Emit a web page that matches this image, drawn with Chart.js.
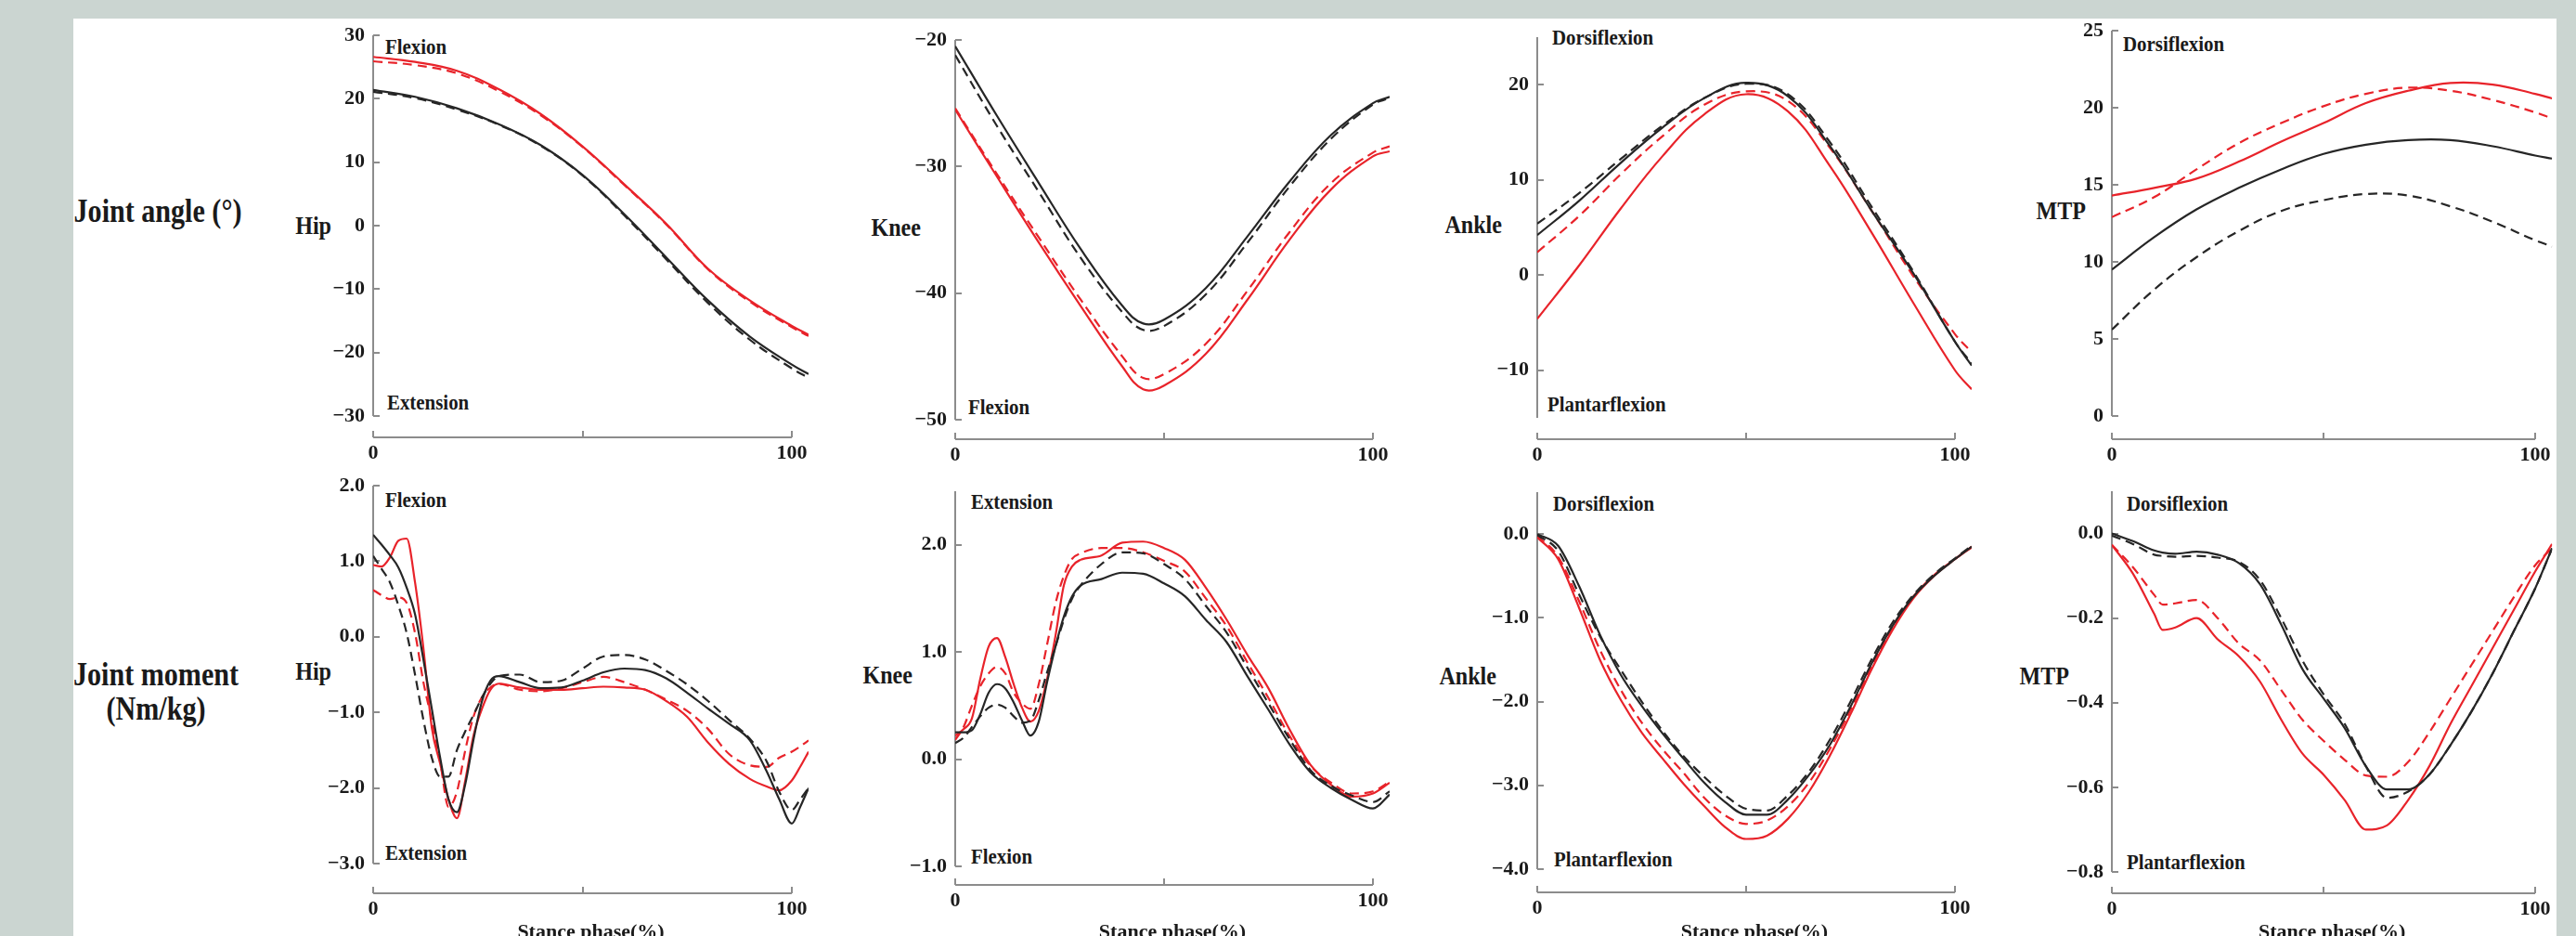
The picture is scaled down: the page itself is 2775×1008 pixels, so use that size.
<!DOCTYPE html>
<html lang="en">

<head>
    <meta charset="UTF-8">
    <title>Joint angle and moment</title>
    <script src="https://cdn.jsdelivr.net/npm/chart.js"></script>
    <style>
        html, body { margin: 0; padding: 0; overflow: hidden; background: #cbd5d1; }
        #stage { position: relative; width: 2775px; height: 1008px; overflow: hidden; }
        #sheet { position: absolute; left: 79px; top: 20px; width: 2675px; height: 1000px; background: #fff; }
        canvas { position: absolute; left: 0; top: 0; }
        .lbl { position: absolute; font-family: 'Liberation Serif', serif; font-weight: bold; color: #1a1a1a;
               line-height: 1; white-space: nowrap; }
        .big { font-size: 35px; text-align: center; line-height: 37px; transform: translate(-50%, -50%) scaleX(0.86); }
        .row { font-size: 28px; transform-origin: right center; transform: translate(-100%, -50%) scaleX(0.86); }
        .note { font-size: 24px; transform-origin: left center; transform: translateY(-50%) scaleX(0.87); }
    </style>
</head>

<body>
    <div id="stage">
        <div id="sheet"></div>

        <div class="lbl big" style="left:170px;top:227px">Joint angle (°)</div>
        <div class="lbl big" style="left:168px;top:745px">Joint moment<br>(Nm/kg)</div>

        <div class="lbl row" style="left:357px;top:243px">Hip</div>
        <div class="lbl row" style="left:992px;top:245px">Knee</div>
        <div class="lbl row" style="left:1618px;top:242px">Ankle</div>
        <div class="lbl row" style="left:2247px;top:227px">MTP</div>
        <div class="lbl row" style="left:357px;top:723px">Hip</div>
        <div class="lbl row" style="left:983px;top:727px">Knee</div>
        <div class="lbl row" style="left:1612px;top:728px">Ankle</div>
        <div class="lbl row" style="left:2229px;top:728px">MTP</div>

        <div class="lbl note" style="left:415px;top:50px">Flexion</div>
        <div class="lbl note" style="left:417px;top:433px">Extension</div>
        <div class="lbl note" style="left:1043px;top:438px">Flexion</div>
        <div class="lbl note" style="left:1672px;top:40px">Dorsiflexion</div>
        <div class="lbl note" style="left:1667px;top:435px">Plantarflexion</div>
        <div class="lbl note" style="left:2287px;top:47px">Dorsiflexion</div>
        <div class="lbl note" style="left:415px;top:538px">Flexion</div>
        <div class="lbl note" style="left:415px;top:918px">Extension</div>
        <div class="lbl note" style="left:1046px;top:540px">Extension</div>
        <div class="lbl note" style="left:1046px;top:922px">Flexion</div>
        <div class="lbl note" style="left:1673px;top:542px">Dorsiflexion</div>
        <div class="lbl note" style="left:1674px;top:925px">Plantarflexion</div>
        <div class="lbl note" style="left:2291px;top:542px">Dorsiflexion</div>
        <div class="lbl note" style="left:2291px;top:928px">Plantarflexion</div>
    </div>

    <script>
        // stance phase (%) sample points
        const angleX = [0, 10, 20, 30, 40, 50, 60, 70, 80, 90, 100, 104];
        const kneeAngleX = [0, 10, 20, 30, 40, 45, 50, 60, 70, 80, 90, 100, 104];
        const hipMomentX = [0, 2, 4, 6, 8, 10, 12, 14, 16, 18, 20, 22, 24, 26, 28, 30, 35, 40, 45, 50, 55, 60, 65, 70, 75, 80, 85, 90, 94, 97, 100, 102, 104];
        const kneeMomentX = [0, 2, 4, 6, 8, 10, 12, 14, 16, 18, 20, 22, 24, 26, 28, 30, 35, 40, 45, 50, 55, 60, 65, 70, 75, 80, 85, 90, 95, 100, 104];
        const ankleMomentX = [0, 5, 10, 15, 20, 25, 30, 35, 40, 45, 50, 55, 60, 65, 70, 75, 80, 85, 90, 95, 100, 104];
        const mtpMomentX = [0, 5, 10, 12, 15, 20, 25, 30, 35, 40, 45, 50, 55, 60, 65, 70, 75, 80, 85, 90, 95, 100, 104];
        const xTicks = [0, 50, 100];

        // joint angles (deg)
        const hipAngleBlack = [21.4, 20.3, 18.5, 16.0, 12.7, 8.0, 1.8, -5.0, -11.8, -17.5, -21.9, -23.4];
        const hipAngleBlackDash = [21.1, 20.1, 18.3, 15.9, 12.6, 7.9, 1.6, -5.3, -12.2, -18.0, -22.5, -24.0];
        const hipAngleRed = [26.6, 25.8, 24.4, 21.5, 17.6, 12.5, 6.5, 0.3, -6.8, -11.8, -15.8, -17.2];
        const hipAngleRedDash = [25.9, 25.3, 24.0, 21.2, 17.4, 12.4, 6.4, 0.2, -6.9, -12.0, -16.0, -17.4];

        const kneeAngleBlack = [-20.5, -26.0, -31.3, -36.5, -41.0, -42.4, -42.1, -39.6, -35.5, -31.2, -27.5, -25.0, -24.5];
        const kneeAngleBlackDash = [-21.2, -26.8, -32.0, -37.2, -41.5, -42.9, -42.6, -40.1, -36.0, -31.6, -27.8, -25.1, -24.6];
        const kneeAngleRed = [-25.5, -30.8, -36.0, -41.0, -45.8, -47.6, -47.3, -44.8, -40.5, -35.8, -31.8, -29.2, -28.8];
        const kneeAngleRedDash = [-25.4, -30.6, -35.6, -40.5, -45.0, -46.7, -46.4, -44.0, -39.8, -35.2, -31.3, -28.9, -28.4];

        const ankleAngleBlack = [4.2, 7.8, 11.8, 15.5, 18.6, 20.2, 18.8, 13.6, 6.8, 0.2, -7.0, -9.5];
        const ankleAngleBlackDash = [5.4, 8.6, 12.2, 15.7, 18.6, 20.1, 19.0, 14.0, 7.2, 0.4, -7.0, -9.3];
        const ankleAngleRed = [-4.6, 1.0, 7.0, 12.5, 16.9, 19.0, 17.2, 11.5, 4.5, -2.9, -10.0, -12.0];
        const ankleAngleRedDash = [2.4, 6.2, 10.6, 14.6, 17.9, 19.3, 18.3, 13.4, 6.8, -0.1, -6.2, -8.1];

        const mtpAngleBlack = [9.5, 11.6, 13.4, 14.8, 16.0, 17.0, 17.6, 17.9, 17.9, 17.5, 16.9, 16.7];
        const mtpAngleBlackDash = [5.6, 8.2, 10.3, 12.0, 13.3, 14.0, 14.4, 14.3, 13.6, 12.6, 11.4, 11.0];
        const mtpAngleRed = [14.3, 14.8, 15.4, 16.5, 17.8, 19.0, 20.3, 21.1, 21.6, 21.5, 20.9, 20.6];
        const mtpAngleRedDash = [12.9, 14.2, 16.0, 17.7, 19.0, 20.1, 20.9, 21.3, 21.1, 20.5, 19.7, 19.3];

        // joint moments (Nm/kg)
        const hipMomentBlack = [1.35, 1.22, 1.08, 0.92, 0.65, 0.3, -0.3, -0.95, -1.6, -2.15, -2.32, -1.95, -1.35, -0.85, -0.58, -0.52, -0.6, -0.68, -0.67, -0.58, -0.47, -0.42, -0.44, -0.55, -0.74, -0.95, -1.15, -1.37, -1.78, -2.15, -2.47, -2.25, -2.0];
        const hipMomentBlackDash = [1.07, 0.9, 0.72, 0.42, 0.05, -0.5, -1.1, -1.6, -1.85, -1.85, -1.5, -1.25, -1.03, -0.8, -0.62, -0.52, -0.5, -0.6, -0.58, -0.42, -0.26, -0.24, -0.3, -0.45, -0.63, -0.85, -1.1, -1.35, -1.65, -2.05, -2.29, -2.15, -2.0];
        const hipMomentRed = [0.95, 0.93, 1.05, 1.27, 1.3, 0.72, -0.15, -1.2, -1.68, -2.15, -2.4, -1.9, -1.3, -0.95, -0.7, -0.62, -0.67, -0.7, -0.7, -0.68, -0.66, -0.67, -0.7, -0.85, -1.06, -1.4, -1.68, -1.88, -1.98, -2.03, -1.9, -1.72, -1.52];
        const hipMomentRedDash = [0.62, 0.55, 0.5, 0.52, 0.45, 0.05, -0.6, -1.1, -1.65, -2.25, -2.05, -1.5, -1.05, -0.8, -0.67, -0.62, -0.7, -0.72, -0.68, -0.6, -0.53, -0.6, -0.7, -0.83, -0.98, -1.22, -1.55, -1.7, -1.72, -1.6, -1.52, -1.45, -1.37];

        const kneeMomentBlack = [0.25, 0.25, 0.27, 0.42, 0.62, 0.7, 0.66, 0.53, 0.36, 0.22, 0.35, 0.72, 1.05, 1.33, 1.52, 1.62, 1.68, 1.74, 1.73, 1.64, 1.52, 1.3, 1.09, 0.77, 0.46, 0.14, -0.12, -0.27, -0.38, -0.46, -0.33];
        const kneeMomentBlackDash = [0.15, 0.2, 0.3, 0.4, 0.48, 0.51, 0.48, 0.4, 0.34, 0.36, 0.55, 0.81, 1.05, 1.3, 1.5, 1.62, 1.82, 1.93, 1.92, 1.82, 1.68, 1.43, 1.18, 0.85, 0.52, 0.19, -0.1, -0.25, -0.34, -0.4, -0.3];
        const kneeMomentRed = [0.22, 0.28, 0.38, 0.75, 1.05, 1.13, 0.95, 0.7, 0.48, 0.35, 0.45, 0.75, 1.15, 1.62, 1.8, 1.86, 1.9, 2.02, 2.03, 1.97, 1.86, 1.6, 1.3, 0.97, 0.66, 0.28, -0.05, -0.24, -0.35, -0.32, -0.22];
        const kneeMomentRedDash = [0.18, 0.3, 0.5, 0.68, 0.8, 0.86, 0.8, 0.62, 0.52, 0.47, 0.7, 1.07, 1.45, 1.71, 1.87, 1.92, 1.97, 1.97, 1.93, 1.85, 1.75, 1.5, 1.24, 0.9, 0.57, 0.22, -0.06, -0.22, -0.32, -0.3, -0.21];

        const ankleMomentBlack = [0, -0.14, -0.62, -1.2, -1.68, -2.05, -2.38, -2.68, -2.97, -3.2, -3.35, -3.35, -3.17, -2.88, -2.52, -2.06, -1.55, -1.1, -0.75, -0.5, -0.3, -0.15];
        const ankleMomentBlackDash = [-0.01, -0.2, -0.72, -1.22, -1.62, -2.0, -2.35, -2.65, -2.9, -3.12, -3.28, -3.3, -3.12, -2.84, -2.46, -2.0, -1.5, -1.06, -0.73, -0.48, -0.29, -0.14];
        const ankleMomentRed = [-0.04, -0.3, -0.88, -1.5, -1.98, -2.37, -2.68, -2.98, -3.25, -3.5, -3.64, -3.6, -3.4, -3.08, -2.65, -2.15, -1.62, -1.15, -0.77, -0.5, -0.3, -0.16];
        const ankleMomentRedDash = [-0.02, -0.27, -0.8, -1.38, -1.86, -2.25, -2.57, -2.85, -3.15, -3.36, -3.46, -3.42, -3.25, -2.97, -2.57, -2.1, -1.58, -1.12, -0.75, -0.49, -0.3, -0.15];

        const mtpMomentBlack = [0, -0.018, -0.04, -0.045, -0.048, -0.043, -0.05, -0.07, -0.12, -0.215, -0.32, -0.39, -0.46, -0.55, -0.605, -0.605, -0.57, -0.5, -0.42, -0.33, -0.23, -0.13, -0.035];
        const mtpMomentBlackDash = [-0.005, -0.025, -0.05, -0.053, -0.055, -0.053, -0.057, -0.067, -0.11, -0.2, -0.3, -0.38, -0.45, -0.55, -0.625, -0.61, -0.57, -0.5, -0.42, -0.33, -0.23, -0.13, -0.035];
        const mtpMomentRed = [-0.027, -0.095, -0.19, -0.228, -0.222, -0.2, -0.25, -0.29, -0.35, -0.44, -0.52, -0.57, -0.63, -0.7, -0.69, -0.63, -0.55, -0.45, -0.36, -0.27, -0.18, -0.09, -0.025];
        const mtpMomentRedDash = [-0.027, -0.08, -0.145, -0.168, -0.165, -0.157, -0.2, -0.26, -0.3, -0.37, -0.44, -0.49, -0.535, -0.572, -0.575, -0.54, -0.47, -0.39, -0.31, -0.23, -0.15, -0.075, -0.035];

        // y tick labels
        const hipAngleTicks = [30, 20, 10, 0, -10, -20, -30];
        const kneeAngleTicks = [-20, -30, -40, -50];
        const ankleAngleTicks = [20, 10, 0, -10];
        const mtpAngleTicks = [25, 20, 15, 10, 5, 0];
        const hipMomentTicks = [2, 1, 0, -1, -2, -3];
        const kneeMomentTicks = [2, 1, 0, -1];
        const ankleMomentTicks = [0, -1, -2, -3, -4];
        const mtpMomentTicks = [0, -0.2, -0.4, -0.6, -0.8];

        const RED = '#e8232a';
        const BLACK = '#262626';
        const AXIS = '#8c8c8c';
        const W = 2775, H = 1040;
        const X_MAX = 104;
        const TITLE_MID = 1005;
        const tickFont = { family: 'Liberation Serif', weight: 'bold', size: 22 };

        // column x of the y axis and px per % of stance
        const columns = [{ left: 402, unit: 4.51 }, { left: 1029, unit: 4.50 }, { left: 1656, unit: 4.50 }, { left: 2275, unit: 4.56 }];

        const panels = [
            { col: 0, x: angleX, lines: [hipAngleBlack, hipAngleBlackDash, hipAngleRed, hipAngleRedDash], ticks: hipAngleTicks, dec: 0, yLo: -30, yHi: 30, pxHi: 38, pxLo: 448, axisY: 471, smooth: true },
            { col: 1, x: kneeAngleX, lines: [kneeAngleBlack, kneeAngleBlackDash, kneeAngleRed, kneeAngleRedDash], ticks: kneeAngleTicks, dec: 0, yLo: -50, yHi: -20, pxHi: 43, pxLo: 452, axisY: 473, smooth: true },
            { col: 2, x: angleX, lines: [ankleAngleBlack, ankleAngleBlackDash, ankleAngleRed, ankleAngleRedDash], ticks: ankleAngleTicks, dec: 0, yLo: -15, yHi: 25, pxHi: 40, pxLo: 450, axisY: 473, smooth: true },
            { col: 3, x: angleX, lines: [mtpAngleBlack, mtpAngleBlackDash, mtpAngleRed, mtpAngleRedDash], ticks: mtpAngleTicks, dec: 0, yLo: 0, yHi: 25, pxHi: 33, pxLo: 448, axisY: 473, smooth: true },
            { col: 0, x: hipMomentX, lines: [hipMomentBlack, hipMomentBlackDash, hipMomentRed, hipMomentRedDash], ticks: hipMomentTicks, dec: 1, yLo: -3, yHi: 2, pxHi: 523, pxLo: 930, axisY: 962, title: true },
            { col: 1, x: kneeMomentX, lines: [kneeMomentBlack, kneeMomentBlackDash, kneeMomentRed, kneeMomentRedDash], ticks: kneeMomentTicks, dec: 1, yLo: -1, yHi: 2.5, pxHi: 529, pxLo: 933, axisY: 953, title: true },
            { col: 2, x: ankleMomentX, lines: [ankleMomentBlack, ankleMomentBlackDash, ankleMomentRed, ankleMomentRedDash], ticks: ankleMomentTicks, dec: 1, yLo: -4, yHi: 0.5, pxHi: 530, pxLo: 936, axisY: 961, title: true },
            { col: 3, x: mtpMomentX, lines: [mtpMomentBlack, mtpMomentBlackDash, mtpMomentRed, mtpMomentRedDash], ticks: mtpMomentTicks, dec: 1, yLo: -0.8, yHi: 0.1, pxHi: 529, pxLo: 939, axisY: 962, title: true }
        ];

        const fmt = (v, dec) => (v < 0 ? '\u2212' : '') + Math.abs(v).toFixed(dec);

        // Origin-style axes: y line only over its range, x line set below it, ticks pointing inward
        const detachedAxes = {
            id: 'detachedAxes',
            beforeDatasetsDraw(chart, args, opts) {
                const { ctx, chartArea, scales: { x, y } } = chart;
                const x0 = chartArea.left;
                const xb = chartArea.bottom;
                ctx.save();
                ctx.strokeStyle = AXIS;
                ctx.lineWidth = 2;
                ctx.beginPath();
                ctx.moveTo(x0, y.getPixelForValue(opts.yHi));
                ctx.lineTo(x0, y.getPixelForValue(opts.yLo));
                opts.ticks.forEach(t => {
                    const py = Math.round(y.getPixelForValue(t));
                    ctx.moveTo(x0, py);
                    ctx.lineTo(x0 + 7, py);
                });
                ctx.moveTo(x.getPixelForValue(0), xb);
                ctx.lineTo(x.getPixelForValue(100), xb);
                xTicks.forEach(t => {
                    const px = Math.round(x.getPixelForValue(t));
                    ctx.moveTo(px, xb);
                    ctx.lineTo(px, xb - 7);
                });
                ctx.stroke();
                ctx.restore();
            }
        };

        const stage = document.getElementById('stage');
        const styles = [
            { color: BLACK, dash: [] },
            { color: BLACK, dash: [10, 6] },
            { color: RED, dash: [] },
            { color: RED, dash: [10, 6] }
        ];

        panels.forEach(p => {
            const c = columns[p.col];
            const yW = 100;
            const xH = p.title ? Math.round(TITLE_MID + 13.2 - p.axisY) : 40;
            const yMin = p.yLo - (p.axisY - p.pxLo) * (p.yHi - p.yLo) / (p.pxLo - p.pxHi);

            const canvas = document.createElement('canvas');
            canvas.width = W;
            canvas.height = H;
            stage.appendChild(canvas);

            new Chart(canvas, {
                type: 'line',
                data: {
                    datasets: p.lines.map((vals, i) => ({
                        data: vals.map((v, k) => ({ x: p.x[k], y: v })),
                        borderColor: styles[i].color,
                        borderDash: styles[i].dash,
                        borderWidth: 2.2,
                        pointRadius: 0,
                        // smooth angle curves, keep sharp moment peaks from overshooting
                        cubicInterpolationMode: p.smooth ? 'default' : 'monotone',
                        tension: 0.4,
                        fill: false
                    }))
                },
                options: {
                    responsive: false,
                    animation: false,
                    devicePixelRatio: 1,
                    layout: {
                        padding: {
                            left: c.left - yW,
                            right: W - (c.left + X_MAX * c.unit),
                            top: p.pxHi,
                            bottom: H - p.axisY - xH
                        }
                    },
                    plugins: {
                        legend: { display: false },
                        tooltip: { enabled: false },
                        detachedAxes: { yLo: p.yLo, yHi: p.yHi, ticks: p.ticks }
                    },
                    scales: {
                        x: {
                            type: 'linear',
                            min: 0,
                            max: X_MAX,
                            grid: { display: false, drawTicks: false },
                            border: { display: false },
                            afterBuildTicks: s => { s.ticks = xTicks.map(v => ({ value: v })); },
                            afterFit: s => { s.height = xH; },
                            ticks: {
                                padding: 4, autoSkip: false, maxRotation: 0,
                                font: tickFont, color: '#1a1a1a',
                                callback: v => (v === 50 ? '' : String(v))
                            },
                            title: {
                                display: !!p.title,
                                text: 'Stance phase(%)',
                                font: { family: 'Liberation Serif', weight: 'bold', size: 22 },
                                color: '#1a1a1a',
                                padding: 0
                            }
                        },
                        y: {
                            type: 'linear',
                            min: yMin,
                            max: p.yHi,
                            grid: { display: false, drawTicks: false },
                            border: { display: false },
                            afterBuildTicks: s => { s.ticks = p.ticks.map(v => ({ value: v })); },
                            afterFit: s => { s.width = yW; },
                            ticks: {
                                padding: 9, autoSkip: false,
                                font: tickFont, color: '#1a1a1a',
                                callback: v => fmt(v, p.dec)
                            }
                        }
                    }
                },
                plugins: [detachedAxes]
            });
        });
    </script>
</body>

</html>
